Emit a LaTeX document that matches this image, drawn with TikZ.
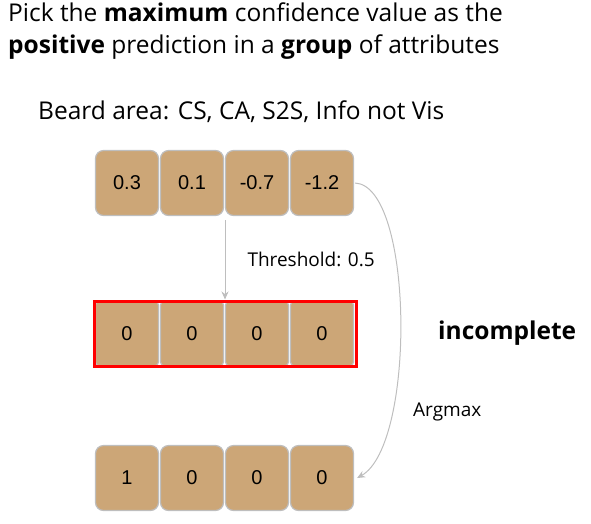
\documentclass[tikz,border=0pt]{standalone}
\usepackage{fontspec}
\setmainfont{Open Sans}
\newfontfamily\numfont{Liberation Sans}
\usetikzlibrary{arrows.meta}

\definecolor{tan}{RGB}{204,166,119}
\definecolor{edge}{RGB}{190,190,190}

\begin{document}
\begin{tikzpicture}[x=1pt,y=-1pt,>=Stealth,
 cell/.style={draw=edge,line width=1.2pt,fill=tan,rounded corners=8pt,
   minimum width=63pt,minimum height=65pt,inner sep=0pt,font=\numfont\fontsize{20}{24}\selectfont},
 frame/.style={draw=red,line width=3pt,minimum width=262pt,minimum height=65pt,inner sep=0pt},
 lab/.style={inner sep=0pt,anchor=west},
 link/.style={draw=edge,line width=1pt,-{Stealth[length=8pt,width=7pt]}}]
\useasboundingbox (0,0) rectangle (591,523);
\node[lab,anchor=north west,align=left,font=\fontsize{24.5}{32}\selectfont] (title) at (8,3)
 {Pick the \textbf{maximum} confidence value as the\\
  \textbf{positive} prediction in a \textbf{group} of attributes};
\node[lab,font=\fontsize{24.5}{28}\selectfont] (group) at (38,112) {Beard area: CS, CA, S2S, Info not Vis};
% raw confidences
\node[cell] (v1) at (127,183) {0.3};
\node[cell] (v2) at (192,183) {0.1};
\node[cell] (v3) at (257,183) {-0.7};
\node[cell] (v4) at (322,183) {-1.2};
% after threshold
\node[cell,rounded corners=4pt] (h1) at (127,333.5) {0};
\node[cell,rounded corners=4pt] (h2) at (192,333.5) {0};
\node[cell,rounded corners=4pt] (h3) at (257,333.5) {0};
\node[cell,rounded corners=4pt] (h4) at (322,333.5) {0};
\node[frame] (hold) at (225,333.5) {};
% after argmax
\node[cell] (a1) at (127,478) {1};
\node[cell] (a2) at (192,478) {0};
\node[cell] (a3) at (257,478) {0};
\node[cell] (a4) at (322,478) {0};
\draw[link] ([yshift=-4pt]v2.south -| hold.north) -- node[lab,xshift=22pt] (thr) {\fontsize{19}{22}\selectfont Threshold: 0.5} (hold.north);
\draw[link] ([xshift=1pt]v4.east) .. controls (414,186) and (416,445) .. ([xshift=3pt]a4.east);
\node[lab,font=\fontsize{19}{22}\selectfont] (amx) at (413,412) {Argmax};
\node[lab,font=\bfseries\fontsize{24.5}{28}\selectfont] (inc) at (438,333) {incomplete};
\end{tikzpicture}
\end{document}
